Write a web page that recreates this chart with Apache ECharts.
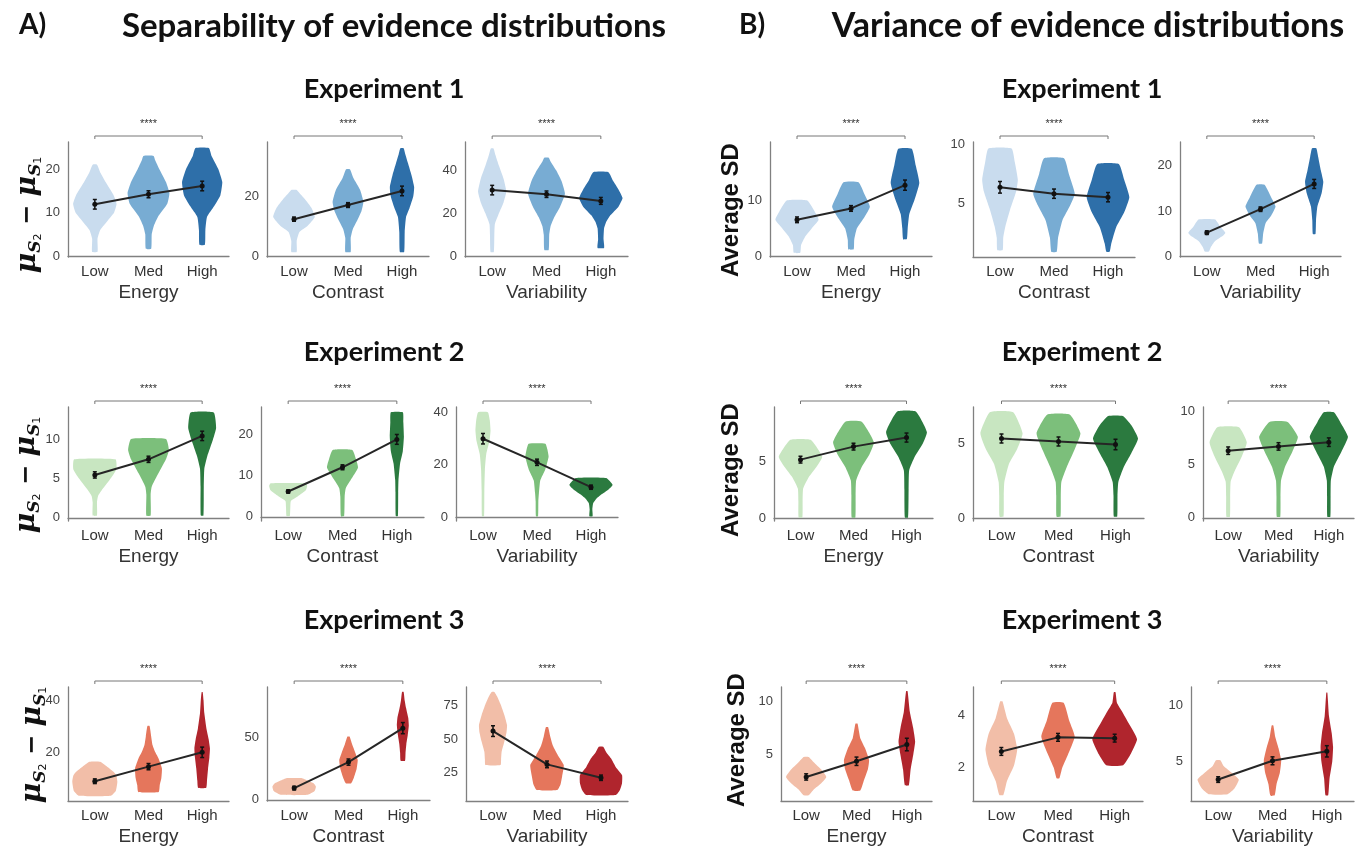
<!DOCTYPE html>
<html>
<head>
<meta charset="utf-8">
<script src="https://cdn.jsdelivr.net/npm/echarts@6.0.0/dist/echarts.min.js"></script>
<style>
html, body { margin: 0; padding: 0; background: #fff; }
#chart { width: 1369px; height: 847px; }
</style>
</head>
<body>
<div id="chart"></div>
<script>
const categories = ["Low", "Med", "High"];
const factors = ["Energy", "Contrast", "Variability"];

// means per experiment row: [Energy, Contrast, Variability] x [Low, Med, High]
const sepExp1Means = [[11.9, 14.2, 16.1], [12.3, 17.0, 21.7], [30.7, 28.8, 25.7]];
const sepExp2Means = [[5.5, 7.5, 10.5], [6.2, 12.1, 18.9], [29.9, 20.9, 11.4]];
const sepExp3Means = [[8.8, 14.4, 19.9], [9.4, 30.4, 57.8], [56.0, 31.1, 21.1]];
const varExp1Means = [[6.5, 8.5, 12.6], [6.35, 5.8, 5.5], [5.2, 10.4, 16.0]];
const varExp2Means = [[5.15, 6.3, 7.1], [5.3, 5.1, 4.9], [6.3, 6.7, 7.1]];
const varExp3Means = [[2.8, 4.3, 5.9], [2.63, 3.17, 3.14], [3.4, 5.06, 5.9]];

// error bar half lengths
const sepExp1Errs = [[1.1, 0.8, 1.1], [0.7, 0.8, 1.6], [2.2, 1.5, 1.6]];
const sepExp2Errs = [[0.4, 0.4, 0.6], [0.4, 0.6, 1.2], [2.0, 1.2, 0.8]];
const sepExp3Errs = [[0.9, 1.2, 2.0], [1.5, 2.5, 4.5], [4.0, 2.5, 2.0]];
const varExp1Errs = [[0.5, 0.5, 0.9], [0.5, 0.4, 0.4], [0.4, 0.5, 1.0]];
const varExp2Errs = [[0.3, 0.3, 0.4], [0.3, 0.3, 0.35], [0.35, 0.35, 0.4]];
const varExp3Errs = [[0.3, 0.4, 0.6], [0.15, 0.15, 0.15], [0.25, 0.35, 0.5]];

// y tick labels
const sepExp1Ticks = [[0, 10, 20], [0, 20], [0, 20, 40]];
const sepExp2Ticks = [[0, 5, 10], [0, 10, 20], [0, 20, 40]];
const sepExp3Ticks = [[20, 40], [0, 50], [25, 50, 75]];
const varExp1Ticks = [[0, 10], [5, 10], [0, 10, 20]];
const varExp2Ticks = [[0, 5], [0, 5], [0, 5, 10]];
const varExp3Ticks = [[5, 10], [2, 4], [5, 10]];

// violin outlines: [value, width as share of category band], bottom to top
const sepExp1Violins = [
    [
        [[1, 0.1], [4, 0.1], [6, 0.2], [8.3, 0.5], [10, 0.72], [12, 0.81], [14, 0.7], [17, 0.4], [19, 0.22], [21, 0.08]],
        [[1.7, 0.1], [5, 0.12], [7, 0.2], [9, 0.35], [12, 0.7], [14.5, 0.78], [17, 0.65], [20, 0.4], [22, 0.25], [23, 0.19]],
        [[2.6, 0.1], [6, 0.12], [9, 0.18], [11.5, 0.45], [14, 0.68], [17, 0.75], [20, 0.6], [23, 0.35], [24.8, 0.25]],
    ],
    [
        [[1.4, 0.1], [5, 0.1], [8, 0.2], [10, 0.5], [13, 0.77], [16, 0.65], [19, 0.4], [21, 0.2], [22, 0.1]],
        [[1.4, 0.1], [6, 0.1], [9, 0.18], [12, 0.35], [15, 0.5], [18, 0.57], [22, 0.45], [26, 0.2], [28.9, 0.07]],
        [[1.4, 0.08], [8, 0.1], [13, 0.15], [16, 0.28], [20, 0.42], [23, 0.45], [27, 0.35], [31, 0.22], [34, 0.12], [35.9, 0.06]],
    ],
    [
        [[2, 0.06], [10, 0.08], [15, 0.1], [20, 0.25], [25, 0.42], [30, 0.52], [36, 0.42], [42, 0.25], [47, 0.12], [50, 0.05]],
        [[3, 0.08], [10, 0.1], [14, 0.15], [18, 0.28], [23, 0.5], [29, 0.68], [35, 0.55], [40, 0.35], [44, 0.15], [45.7, 0.08]],
        [[3.9, 0.12], [8, 0.1], [13, 0.12], [16, 0.2], [19, 0.35], [23, 0.65], [27, 0.8], [31, 0.65], [35, 0.45], [39, 0.28]],
    ],
];
const sepExp2Violins = [
    [
        [[0.3, 0.08], [2, 0.08], [2.8, 0.12], [3.5, 0.25], [4.9, 0.56], [6.2, 0.8], [7.5, 0.77]],
        [[0.3, 0.08], [3, 0.08], [4, 0.12], [5.7, 0.37], [7.5, 0.65], [8.7, 0.76], [10.1, 0.65]],
        [[0.3, 0.05], [4, 0.06], [6.3, 0.08], [7.9, 0.19], [10, 0.4], [11.5, 0.52], [13.5, 0.43]],
    ],
    [
        [[0.2, 0.06], [2.5, 0.08], [3.9, 0.1], [5.1, 0.37], [6.5, 0.65], [7.6, 0.7], [8.2, 0.64]],
        [[0.2, 0.06], [5, 0.08], [7, 0.12], [9, 0.3], [12, 0.57], [14, 0.5], [16.3, 0.36]],
        [[0.2, 0.04], [6, 0.05], [9, 0.06], [13, 0.12], [16, 0.22], [19.6, 0.26], [23, 0.24], [25.5, 0.22]],
    ],
    [
        [[0.3, 0.04], [10, 0.05], [18, 0.07], [24, 0.12], [29, 0.24], [33, 0.28], [37, 0.25], [40, 0.18]],
        [[0.3, 0.04], [6, 0.05], [9, 0.07], [14, 0.12], [18, 0.3], [23, 0.43], [26, 0.38], [28, 0.31]],
        [[0.3, 0.06], [3, 0.05], [5.3, 0.08], [7, 0.2], [8.5, 0.37], [10.5, 0.65], [12.3, 0.8], [14.9, 0.56]],
    ],
];
const sepExp3Violins = [
    [
        [[3.2, 0.6], [5, 0.78], [8.6, 0.84], [11, 0.8], [12.4, 0.7], [14.5, 0.45], [16.3, 0.2]],
        [[4.7, 0.38], [7.3, 0.42], [10, 0.48], [13.7, 0.5], [17.6, 0.37], [20, 0.25], [22.7, 0.15], [26, 0.1], [30, 0.04]],
        [[6.3, 0.15], [9, 0.18], [13.7, 0.22], [18, 0.27], [21.4, 0.29], [25, 0.24], [29, 0.16], [35, 0.08], [40, 0.05], [43, 0.02]],
    ],
    [
        [[4, 0.5], [7, 0.75], [10.8, 0.8], [13.5, 0.7], [16, 0.45], [17.5, 0.25]],
        [[13.4, 0.1], [18, 0.2], [25, 0.3], [32, 0.34], [38, 0.25], [45, 0.13], [51, 0.04]],
        [[31.5, 0.08], [38, 0.1], [45, 0.13], [52, 0.18], [60, 0.22], [66, 0.2], [74, 0.12], [80, 0.07], [87, 0.03]],
    ],
    [
        [[30.6, 0.28], [35, 0.3], [40.5, 0.32], [48, 0.42], [55, 0.5], [60.4, 0.52], [68, 0.42], [76, 0.28], [82, 0.15], [85.3, 0.05]],
        [[11.9, 0.38], [16, 0.5], [22, 0.56], [30.6, 0.62], [38, 0.4], [45, 0.22], [52, 0.12], [59, 0.04]],
        [[8.2, 0.55], [12, 0.7], [17, 0.78], [23, 0.78], [29, 0.55], [35.6, 0.37], [40, 0.2], [44.3, 0.08]],
    ],
];
const varExp1Violins = [
    [
        [[0.7, 0.12], [2, 0.15], [3.5, 0.3], [5, 0.55], [6.5, 0.8], [8, 0.65], [9.9, 0.38]],
        [[1.3, 0.1], [3, 0.12], [5, 0.22], [7, 0.5], [8.8, 0.7], [11, 0.5], [13.1, 0.28]],
        [[3.1, 0.07], [5, 0.1], [7.5, 0.16], [10, 0.35], [13, 0.53], [16, 0.4], [19, 0.25]],
    ],
    [
        [[0.95, 0.1], [2, 0.12], [3, 0.2], [4.4, 0.37], [6, 0.6], [7, 0.66], [8.5, 0.55], [9.7, 0.43]],
        [[0.8, 0.1], [2, 0.15], [3.5, 0.31], [4.8, 0.6], [5.8, 0.77], [7.5, 0.55], [8.85, 0.37]],
        [[0.8, 0.06], [1.5, 0.12], [2.9, 0.3], [4.2, 0.6], [5.5, 0.79], [7, 0.6], [8.36, 0.4]],
    ],
    [
        [[1, 0.08], [2, 0.15], [3.3, 0.3], [4.5, 0.6], [5.2, 0.69], [6.5, 0.5], [8.1, 0.31]],
        [[2.8, 0.06], [5, 0.1], [7.3, 0.19], [9, 0.4], [11, 0.56], [13, 0.4], [15.8, 0.15]],
        [[4.9, 0.05], [8, 0.07], [11, 0.12], [14, 0.28], [16.5, 0.34], [19, 0.25], [22, 0.15], [23.9, 0.08]],
    ],
];
const varExp2Violins = [
    [
        [[0.05, 0.07], [1.5, 0.08], [2.6, 0.1], [3.6, 0.31], [4.5, 0.6], [5.4, 0.82], [6.9, 0.38]],
        [[0.05, 0.07], [2, 0.08], [3.3, 0.1], [4.5, 0.31], [5.6, 0.6], [6.7, 0.77], [8.5, 0.31]],
        [[0.05, 0.06], [2.5, 0.08], [4.2, 0.1], [5.4, 0.31], [6.5, 0.6], [7.6, 0.77], [9.4, 0.35]],
    ],
    [
        [[0.1, 0.07], [1.5, 0.08], [2.4, 0.1], [3.6, 0.26], [4.6, 0.55], [5.65, 0.74], [7.05, 0.41]],
        [[0.1, 0.07], [1.5, 0.08], [2.4, 0.1], [3.4, 0.29], [4.5, 0.55], [5.65, 0.77], [6.9, 0.39]],
        [[0.1, 0.06], [1.5, 0.07], [2.4, 0.1], [3.4, 0.29], [4.3, 0.55], [5.3, 0.79], [6.2, 0.55], [6.8, 0.26]],
    ],
    [
        [[0.1, 0.07], [2, 0.08], [3.4, 0.1], [4.4, 0.26], [5.8, 0.55], [7.1, 0.74], [8.5, 0.43]],
        [[0.1, 0.07], [2, 0.08], [3.5, 0.1], [4.8, 0.26], [6.2, 0.55], [7.6, 0.77], [9, 0.36]],
        [[0.1, 0.06], [2, 0.07], [3.5, 0.08], [4.8, 0.2], [6.2, 0.5], [7.6, 0.76], [9, 0.45], [9.9, 0.2]],
    ],
];
const varExp3Violins = [
    [
        [[1.05, 0.1], [1.6, 0.3], [2.2, 0.6], [2.8, 0.8], [3.5, 0.6], [4.2, 0.3], [4.7, 0.1]],
        [[1.5, 0.15], [2.5, 0.3], [3.5, 0.45], [4.4, 0.5], [5.5, 0.35], [6.5, 0.15], [7.9, 0.04]],
        [[2, 0.08], [3.5, 0.15], [5, 0.26], [6.2, 0.33], [7.5, 0.25], [9, 0.12], [11, 0.03]],
    ],
    [
        [[0.96, 0.07], [1.5, 0.2], [2.1, 0.45], [2.7, 0.56], [3.3, 0.45], [3.9, 0.2], [4.55, 0.04]],
        [[1.6, 0.05], [2, 0.15], [2.5, 0.35], [3.2, 0.59], [3.8, 0.4], [4.5, 0.2]],
        [[2.1, 0.3], [2.5, 0.55], [3.1, 0.79], [3.7, 0.5], [4.2, 0.24], [4.5, 0.08], [4.9, 0.03]],
    ],
    [
        [[2.1, 0.35], [2.6, 0.6], [3.4, 0.76], [4.1, 0.45], [4.6, 0.2], [5.1, 0.08]],
        [[2, 0.08], [3, 0.15], [4, 0.27], [5.1, 0.32], [6.2, 0.22], [7.2, 0.1], [8.2, 0.03]],
        [[2, 0.05], [3.5, 0.1], [5, 0.2], [6.3, 0.23], [7.5, 0.18], [9, 0.08], [11.1, 0.02]],
    ],
];

// layout
const rowTop = [142, 407, 687];
const rowBottom = [257, 521, 801];
const sepGridX = [[[68, 229], [267, 429], [465, 628]], [[68, 229], [261, 424], [456, 618]], [[68, 229], [267, 430], [466, 628]]];
const varGridX = [[[770, 932], [973, 1135], [1180, 1341]], [[774, 933], [973, 1144], [1203, 1354]], [[781, 932], [973, 1143], [1191, 1354]]];
const sepRanges = [[[-0.2, 26.2], [-0.3, 38], [-0.3, 53]], [[-0.4, 14.2], [-1, 26.8], [-1.5, 42]], [[1.2, 45], [-1, 91], [3.7, 89]]];
const varRanges = [[[-0.05, 20.2], [0.35, 10.25], [-0.2, 25.3]], [[-0.27, 9.8], [-0.2, 7.4], [-0.3, 10.4]], [[0.5, 11.4], [0.73, 5.1], [1.5, 11.6]]];
const palettes = [
    ["#c9dcee", "#78acd3", "#2e6fa9"],
    ["#c8e6c1", "#7cbf7b", "#2b7a3f"],
    ["#f2bea8", "#e5765c", "#b0252d"],
];

const axisFont = "Liberation Sans";
const titleFont = "Lato";

document.addEventListener("DOMContentLoaded", function () {
    const chart = echarts.init(document.getElementById("chart"));

    const panels = [
        { means: [sepExp1Means, sepExp2Means, sepExp3Means], errs: [sepExp1Errs, sepExp2Errs, sepExp3Errs],
          ticks: [sepExp1Ticks, sepExp2Ticks, sepExp3Ticks], violins: [sepExp1Violins, sepExp2Violins, sepExp3Violins],
          gridX: sepGridX, ranges: sepRanges },
        { means: [varExp1Means, varExp2Means, varExp3Means], errs: [varExp1Errs, varExp2Errs, varExp3Errs],
          ticks: [varExp1Ticks, varExp2Ticks, varExp3Ticks], violins: [varExp1Violins, varExp2Violins, varExp3Violins],
          gridX: varGridX, ranges: varRanges },
    ];

    const grid = [], xAxis = [], yAxis = [], series = [];

    panels.forEach(function (panel) {
        for (let r = 0; r < 3; r++) {
            for (let c = 0; c < 3; c++) {
                const idx = grid.length;
                const gx = panel.gridX[r][c];
                const range = panel.ranges[r][c];
                const means = panel.means[r][c];
                const errs = panel.errs[r][c];
                const profiles = panel.violins[r][c];
                const colors = palettes[r];

                grid.push({ left: gx[0], width: gx[1] - gx[0], top: rowTop[r], height: rowBottom[r] - rowTop[r] });
                xAxis.push({
                    gridIndex: idx, type: "category", data: categories,
                    name: factors[c], nameLocation: "middle", nameGap: 26,
                    nameTextStyle: { fontSize: 19, color: "#333", fontFamily: axisFont },
                    axisLine: { lineStyle: { color: "#808080", width: 1.3 } },
                    axisTick: { show: false },
                    axisLabel: { fontSize: 15, color: "#333", margin: 7, fontFamily: axisFont },
                });
                yAxis.push({
                    gridIndex: idx, type: "value", min: range[0], max: range[1],
                    axisLine: { show: true, lineStyle: { color: "#808080", width: 1.3 } },
                    axisTick: { show: false },
                    splitLine: { show: false },
                    axisLabel: { customValues: panel.ticks[r][c], fontSize: 13, color: "#444", margin: 8, fontFamily: axisFont },
                });

                series.push({
                    type: "custom", xAxisIndex: idx, yAxisIndex: idx, z: 2, silent: true,
                    data: means.map(function (m, i) { return [i, m]; }),
                    renderItem: function (params, api) {
                        const i = params.dataIndex;
                        const prof = profiles[i];
                        const half = api.size([1, 0])[0] / 2;
                        const cx = api.coord([i, 0])[0];
                        const right = prof.map(function (p) { return [cx + p[1] * half, api.coord([i, p[0]])[1]]; });
                        const left = prof.slice().reverse().map(function (p) { return [cx - p[1] * half, api.coord([i, p[0]])[1]]; });
                        return { type: "polygon", shape: { points: right.concat(left), smooth: 0.15 }, style: { fill: colors[i] } };
                    },
                });
                series.push({
                    type: "line", xAxisIndex: idx, yAxisIndex: idx, z: 3, silent: true,
                    data: means, symbol: "circle", symbolSize: 5,
                    lineStyle: { color: "#262626", width: 2 }, itemStyle: { color: "#111" },
                });
                series.push({
                    type: "custom", xAxisIndex: idx, yAxisIndex: idx, z: 4, silent: true,
                    data: means.map(function (m, i) { return [i, m - errs[i], m + errs[i]]; }),
                    renderItem: function (params, api) {
                        const lo = api.coord([api.value(0), api.value(1)]);
                        const hi = api.coord([api.value(0), api.value(2)]);
                        const st = { stroke: "#111", lineWidth: 1.5 };
                        return { type: "group", children: [
                            { type: "line", shape: { x1: lo[0], y1: lo[1], x2: hi[0], y2: hi[1] }, style: st },
                            { type: "line", shape: { x1: lo[0] - 2, y1: lo[1], x2: lo[0] + 2, y2: lo[1] }, style: st },
                            { type: "line", shape: { x1: hi[0] - 2, y1: hi[1], x2: hi[0] + 2, y2: hi[1] }, style: st },
                        ] };
                    },
                });
                series.push({
                    type: "custom", xAxisIndex: idx, yAxisIndex: idx, z: 4, silent: true,
                    data: [[0, range[1]]],
                    renderItem: function (params, api) {
                        const a = api.coord([0, range[1]]);
                        const b = api.coord([2, range[1]]);
                        const y = a[1] - 6;
                        return { type: "group", children: [
                            { type: "polyline", shape: { points: [[a[0], y + 3], [a[0], y], [b[0], y], [b[0], y + 3]] },
                              style: { stroke: "#777", lineWidth: 1, fill: null } },
                            { type: "text", x: (a[0] + b[0]) / 2, y: y - 12,
                              style: { text: "****", fontSize: 11, fill: "#333", align: "center", verticalAlign: "middle", fontFamily: axisFont } },
                        ] };
                    },
                });
            }
        }
    });

    const muRich = {
        mu: { fontSize: 28, fontStyle: "italic", fontWeight: "bold", fontFamily: "DejaVu Serif", fill: "#111", verticalAlign: "middle", lineHeight: 32 },
        s: { fontSize: 17, fontStyle: "italic", fontWeight: "bold", fontFamily: "DejaVu Serif", fill: "#111", verticalAlign: "bottom", lineHeight: 20 },
        n: { fontSize: 11, fontFamily: "DejaVu Sans", fill: "#111", verticalAlign: "bottom", lineHeight: 13 },
        op: { fontSize: 24, fontWeight: "bold", fontFamily: "DejaVu Sans", fill: "#111", verticalAlign: "middle", lineHeight: 32 },
    };
    const muText = "{mu|μ}{s|S}{n|2}{op| − }{mu|μ}{s|S}{n|1}";
    const graphic = [
        { type: "text", left: 19, top: 11, style: { text: "A)", fontSize: 28, fontWeight: "bold", fontFamily: titleFont, fill: "#111" } },
        { type: "text", left: 739, top: 11, style: { text: "B)", fontSize: 28, fontWeight: "bold", fontFamily: titleFont, fill: "#111" } },
        { type: "text", x: 394, y: 26, style: { text: "Separability of evidence distributions", fontSize: 33, fontWeight: "bold", fontFamily: titleFont, fill: "#111", align: "center", verticalAlign: "middle" } },
        { type: "text", x: 1088, y: 26, style: { text: "Variance of evidence distributions", fontSize: 34, fontWeight: "bold", fontFamily: titleFont, fill: "#111", align: "center", verticalAlign: "middle" } },
    ];
    const expY = [89, 352, 620];
    const muPos = [[28, 215], [27, 475], [33, 745]];
    const sdPos = [[731, 210], [731, 470], [737, 740]];
    for (let r = 0; r < 3; r++) {
        [384, 1082].forEach(function (x) {
            graphic.push({ type: "text", x: x, y: expY[r], style: { text: "Experiment " + (r + 1), fontSize: 27, fontWeight: "bold", fontFamily: titleFont, fill: "#111", align: "center", verticalAlign: "middle" } });
        });
        graphic.push({ type: "text", x: muPos[r][0], y: muPos[r][1], rotation: Math.PI / 2,
            style: { text: muText, rich: muRich, align: "center", verticalAlign: "middle" } });
        graphic.push({ type: "text", x: sdPos[r][0], y: sdPos[r][1], rotation: Math.PI / 2,
            style: { text: "Average SD", fontSize: 24, fontWeight: "bold", fontFamily: axisFont, fill: "#111", align: "center", verticalAlign: "middle" } });
    }

    chart.setOption({
        animation: false,
        backgroundColor: "#fff",
        grid: grid,
        xAxis: xAxis,
        yAxis: yAxis,
        series: series,
        graphic: graphic,
    });

    window.addEventListener("resize", function () {
        chart.resize();
    });
});
</script>
</body>
</html>
